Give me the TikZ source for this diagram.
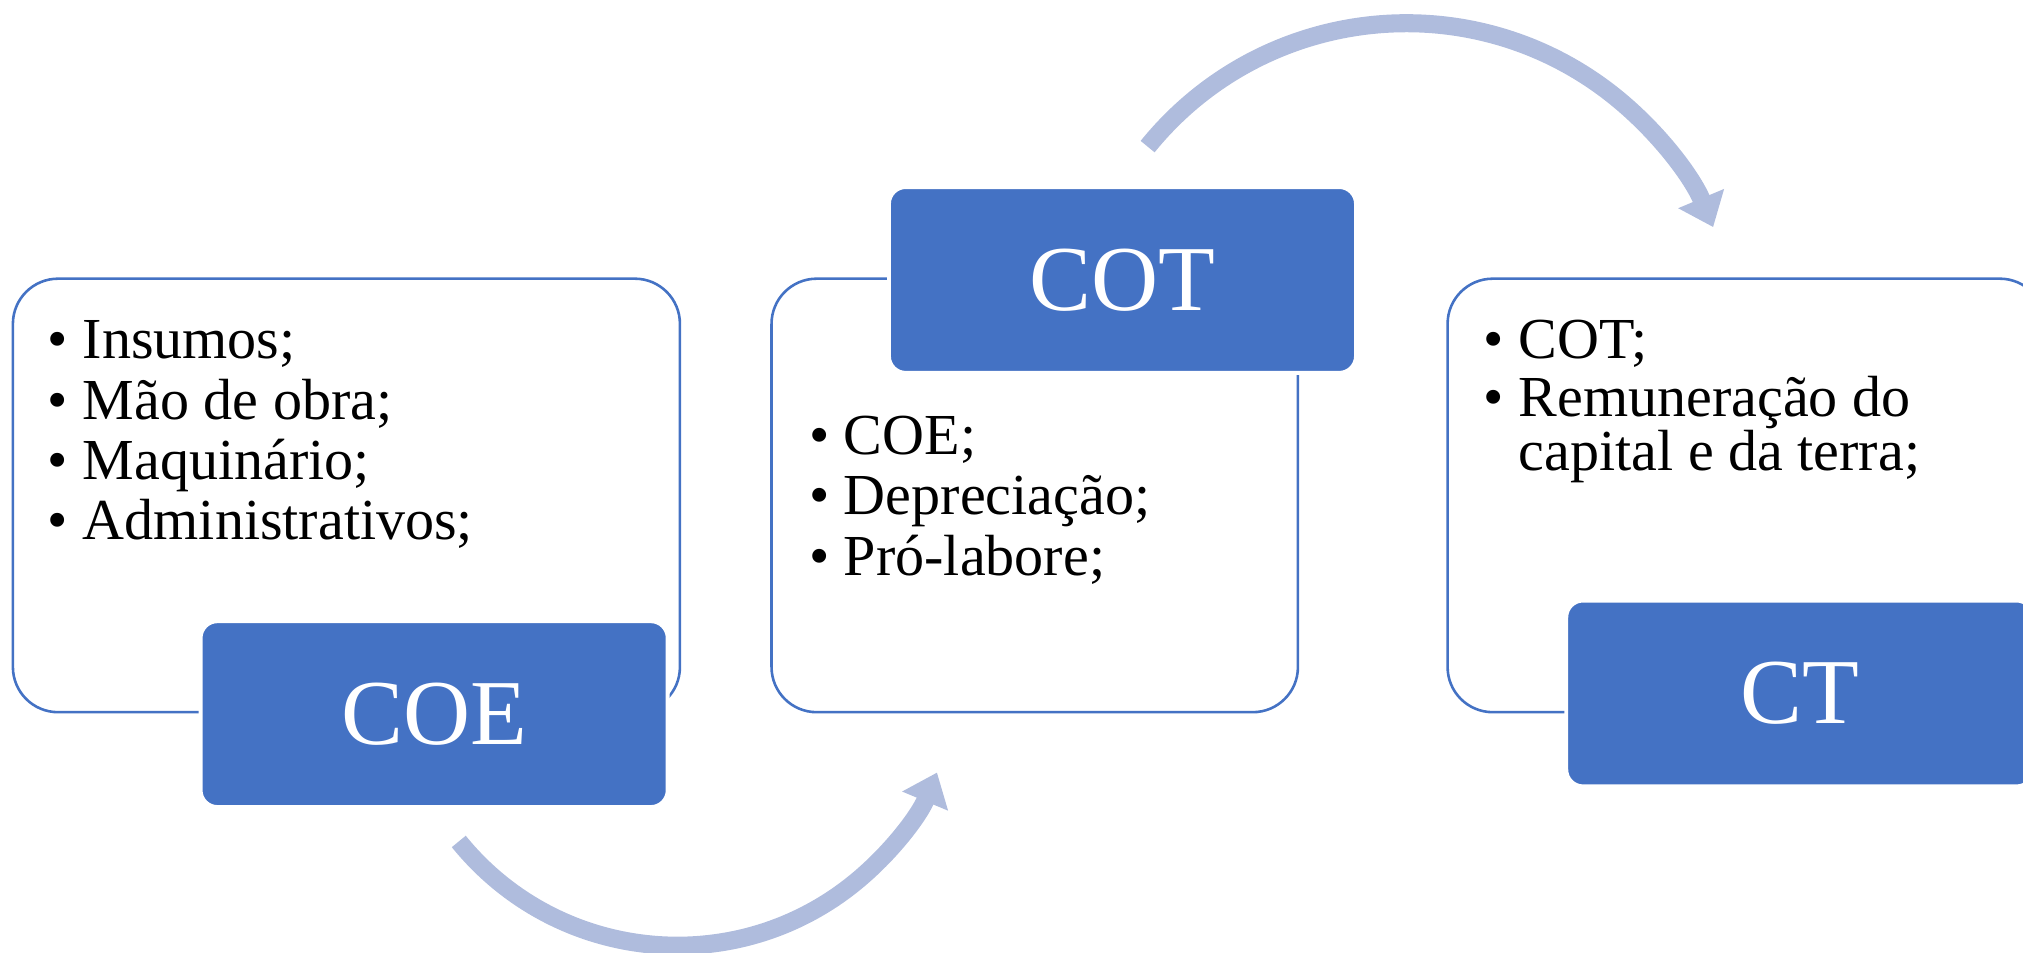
\documentclass[tikz,border=0pt]{standalone}
\usepackage{fontspec}
\setmainfont{Liberation Serif}
\usetikzlibrary{arrows.meta}
\definecolor{accent}{HTML}{4472C4}
\definecolor{arrowc}{HTML}{AFBCDD}
\begin{document}
\begin{tikzpicture}[x=1pt,y=-1pt,
  listbox/.style={draw=accent, line width=2pt, rounded corners=35pt, fill=white, inner sep=0pt},
  titlebox/.style={fill=accent, draw=white, line width=3pt, rounded corners=13pt,
    minimum width=362pt, minimum height=144pt, inner sep=0pt, text=white,
    font=\fontsize{72}{80}\selectfont},
  item/.style={anchor=base west, inner sep=0pt, font=\fontsize{45}{40}\selectfont, align=left},
  flow/.style={draw=arrowc, line width=14pt, -{Triangle[length=24pt,width=37pt]}}]
\useasboundingbox (0,0) rectangle (1568,738);
\clip (0,0) rectangle (1568,738);

% list boxes
\node[listbox, minimum width=517pt, minimum height=336pt] (b1) at (268.5,384) {};
\node[listbox, minimum width=408pt, minimum height=336pt] (b2) at (802,384) {};
\node[listbox, minimum width=463pt, minimum height=336pt] (b3) at (1353.5,384) {};

% title boxes
\node[titlebox] (coe) at (336.5,553.5) {COE};
\node[titlebox] (cot) at (870,217) {COT};
\node[titlebox] (ct) at (1395,537.5) {CT};

% items box 1
\node[item] (i11) at (37,278) {\makebox[27pt][l]{•}Insumos;};
\node[item] (i12) at (37,325) {\makebox[27pt][l]{•}Mão de obra;};
\node[item] (i13) at (37,372) {\makebox[27pt][l]{•}Maquinário;};
\node[item] (i14) at (37,418) {\makebox[27pt][l]{•}Administrativos;};

% items box 2
\node[item] (i21) at (627,352) {\makebox[27pt][l]{•}COE;};
\node[item] (i22) at (627,399) {\makebox[27pt][l]{•}Depreciação;};
\node[item] (i23) at (627,446) {\makebox[27pt][l]{•}Pró-labore;};

% items box 3
\node[item] (i31) at (1150,278) {\makebox[27pt][l]{•}COT;};
\node[item] (i32) at (1150,365) {\makebox[27pt][l]{•}Remuneração do\\\hspace*{27pt}capital e da terra;};

% curved arrows
\coordinate (c1) at (525,515);
\coordinate (c2) at (1090,276);
\draw[flow] (c1) ++(141:218) arc[start angle=141, end angle=22.6, radius=218];
\draw[flow] (c2) ++(-141:258) arc[start angle=-141, end angle=-22.8, radius=258];
\end{tikzpicture}
\end{document}
